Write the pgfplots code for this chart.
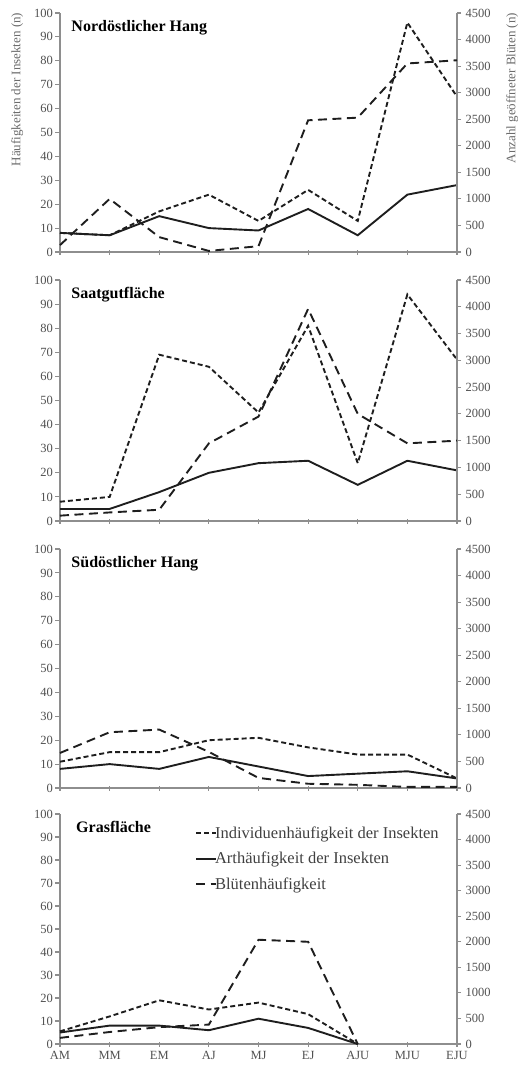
\documentclass[border=0pt]{standalone}
\usepackage{fontspec}
\setmainfont{Liberation Serif}
\usepackage{pgfplots}
\pgfplotsset{compat=1.18}
\definecolor{axgray}{HTML}{8E8E8E}
\definecolor{txtgray}{HTML}{505050}
\definecolor{lblgray}{HTML}{6A6A6A}
\definecolor{lgdgray}{HTML}{404040}
\definecolor{ln}{HTML}{1E1E1E}

\pgfplotsset{
  common/.style={
    scale only axis, width=397pt,
    xmin=0, xmax=8, clip=false,
    axis line style={axgray, line width=1.3pt},
    tick style={axgray, line width=1.1pt},
    /pgf/number format/assume math mode=true,
    /pgf/number format/1000 sep={},
    ticklabel style={font=\fontsize{12.5}{14}\selectfont, text=txtgray},
  },
  leftax/.style={
    common, ymin=0, ymax=100, ytick={0,10,...,100},
    axis x line*=bottom, axis y line*=left,
    xtick={0,...,8}, xticklabels={},
    tick align=center, major tick length=5pt,
    ytick style={xshift=-2.5pt},
    yticklabel style={xshift=-1pt},
  },
  rightax/.style={
    common, ymin=0, ymax=4500, ytick={0,500,...,4500},
    axis x line=none, axis y line*=right,
    tick align=outside, major tick length=4pt,
    yticklabel style={xshift=1pt},
  },
  ind/.style={ln, line width=1.9pt, dash pattern=on 5pt off 3pt},
  art/.style={ln, line width=1.9pt},
  blu/.style={ln, line width=1.9pt, dash pattern=on 9pt off 5.5pt},
}
\newcommand{\ptitle}[2]{\node[anchor=base west, font=\fontsize{16}{18}\selectfont\bfseries, text=black] at (axis description cs:#1,1) [yshift=-18pt] {#2};}

\begin{document}
\begin{tikzpicture}[x=1pt,y=1pt]
\useasboundingbox (0,0) rectangle (518,-1068);

% ---------- Panel 1 ----------
\begin{axis}[leftax, height=239pt, at={(60pt,-252pt)}, anchor=south west,
  ylabel={Häufigkeiten der Insekten (n)},
  ylabel style={at={(axis description cs:-0.108,0.68)}, anchor=center, rotate=0, font=\fontsize{13}{15}\selectfont, text=lblgray}]
\addplot[ind] coordinates {(0,8) (1,7) (2,17) (3,24) (4,13) (5,26) (6,13) (7,96) (8,65)};
\addplot[art] coordinates {(0,8) (1,7) (2,15) (3,10) (4,9) (5,18) (6,7) (7,24) (8,28)};
\ptitle{0.02}{Nordöstlicher Hang}
\end{axis}
\begin{axis}[rightax, height=239pt, at={(60pt,-252pt)}, anchor=south west,
  ylabel={Anzahl geöffneter Blüten (n)},
  ylabel style={at={(axis description cs:1.139,0.686)}, anchor=center, rotate=0, font=\fontsize{13}{15}\selectfont, text=lblgray}]
\addplot[blu] coordinates {(0,130) (1,1000) (2,280) (3,20) (4,110) (5,2480) (6,2530) (7,3550) (8,3610)};
\end{axis}

% ---------- Panel 2 ----------
\begin{axis}[leftax, height=241pt, at={(60pt,-521pt)}, anchor=south west]
\addplot[ind] coordinates {(0,8) (1,10) (2,69) (3,64) (4,45) (5,81) (6,24) (7,94) (8,67)};
\addplot[art] coordinates {(0,5) (1,5) (2,12) (3,20) (4,24) (5,25) (6,15) (7,25) (8,21)};
\ptitle{0.02}{Saatgutfläche}
\end{axis}
\begin{axis}[rightax, height=241pt, at={(60pt,-521pt)}, anchor=south west]
\addplot[blu] coordinates {(0,100) (1,160) (2,210) (3,1450) (4,1950) (5,3960) (6,2000) (7,1450) (8,1500)};
\end{axis}

% ---------- Panel 3 ----------
\begin{axis}[leftax, height=239pt, at={(60pt,-788pt)}, anchor=south west]
\addplot[ind] coordinates {(0,11) (1,15) (2,15) (3,20) (4,21) (5,17) (6,14) (7,14) (8,4)};
\addplot[art] coordinates {(0,8) (1,10) (2,8) (3,13) (4,9) (5,5) (6,6) (7,7) (8,4)};
\ptitle{0.02}{Südöstlicher Hang}
\end{axis}
\begin{axis}[rightax, height=239pt, at={(60pt,-788pt)}, anchor=south west]
\addplot[blu] coordinates {(0,660) (1,1050) (2,1100) (3,680) (4,190) (5,80) (6,60) (7,20) (8,20)};
\end{axis}

% ---------- Panel 4 ----------
\begin{axis}[leftax, height=230pt, at={(60pt,-1044pt)}, anchor=south west,
  xticklabels={AM,MM,EM,AJ,MJ,EJ,AJU,MJU,EJU},
  xticklabel style={yshift=-1pt}]
\addplot[ind] coordinates {(0,5.5) (1,12) (2,19) (3,15) (4,18) (5,13) (6,0)};
\addplot[art] coordinates {(0,5) (1,8) (2,8) (3,6) (4,11) (5,7) (6,0)};
\ptitle{0.032}{Grasfläche}
\end{axis}
\begin{axis}[rightax, height=230pt, at={(60pt,-1044pt)}, anchor=south west,
  legend style={draw=none, fill=none, at={(0.34,0.955)}, anchor=north west,
    font=\fontsize{16.5}{18}\selectfont, text=lgdgray, inner sep=0pt,
    row sep=8.5pt, cells={anchor=west}},
  legend image code/.code={\draw[#1] (0pt,0pt) -- (20pt,0pt);},
  legend cell align=left]
\addlegendimage{ind, line width=1.8pt}
\addlegendentry{\hspace{-4pt}Individuenhäufigkeit der Insekten}
\addlegendimage{art, line width=1.8pt}
\addlegendentry{\hspace{-4pt}Arthäufigkeit der Insekten}
\addplot[blu] coordinates {(0,120) (1,235) (2,330) (3,380) (4,2040) (5,2000) (6,0)};
\addlegendentry{\hspace{-4pt}Blütenhäufigkeit}
\end{axis}
\end{tikzpicture}
\end{document}
